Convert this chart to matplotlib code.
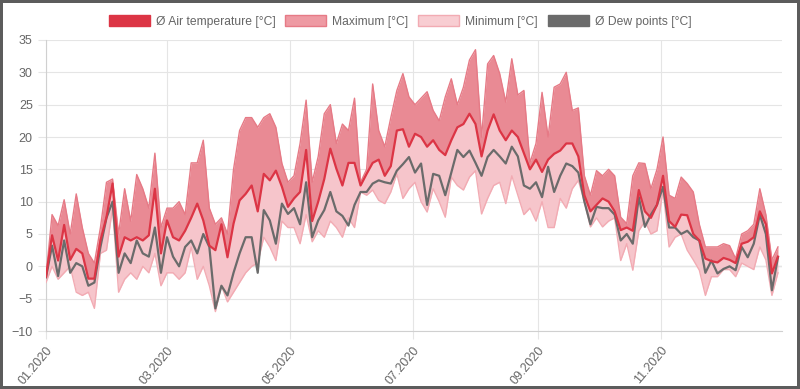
import matplotlib
matplotlib.use("Agg")
import matplotlib.pyplot as plt
import matplotlib.dates as mdates
from matplotlib.patches import Patch
import pandas as pd

# readings every third day of 2020
days = pd.date_range("2020-01-01", periods=122, freq="3D")

air_temp = [
    -1.6, 4.8, 0.9, 6.4, 1.0, 2.7, 2.0, -1.9, -1.9, 4.0,
    7.6, 12.8, 1.5, 4.5, 4.0, 4.5, 4.0, 4.8, 12.0, 2.0,
    7.1, 4.5, 4.0, 5.5, 7.5, 9.7, 7.1, 3.2, 2.5, 6.5,
    1.4, 6.6, 10.2, 11.2, 12.5, 8.5, 14.3, 13.3, 14.8, 12.3,
    9.2, 10.5, 11.5, 18.0, 7.0, 10.0, 13.5, 18.2, 15.1, 12.5,
    16.0, 16.0, 12.5, 14.3, 16.0, 16.5, 14.0, 15.5, 21.0, 21.2,
    18.5, 20.5, 20.0, 18.5, 19.5, 18.0, 17.2, 19.5, 21.5, 22.0,
    23.6, 22.0, 17.0, 21.0, 23.5, 21.0, 19.5, 21.0, 20.0, 17.5,
    15.0, 16.5, 14.6, 16.5, 17.4, 17.9, 19.0, 19.0, 17.0, 11.0,
    8.5, 9.5, 10.5, 10.0, 8.5, 5.6, 6.0, 5.5, 11.8, 8.5,
    7.5, 9.5, 14.0, 7.0, 6.1, 8.0, 7.9, 5.0, 4.0, 1.2,
    0.8, 0.6, 1.3, 1.0, 0.5, 3.5, 3.8, 4.5, 8.5, 6.5,
    -1.1, 1.5,
]

maximum = [
    -1.5, 8.0, 6.3, 10.3, 5.0, 11.2, 6.0, 2.0, 0.5, 6.0,
    13.0, 13.5, 5.0, 12.0, 7.0, 14.2, 12.0, 9.0, 17.5, 6.0,
    9.0, 9.0, 10.0, 8.0, 16.0, 16.0, 19.5, 9.0, 6.5, 7.5,
    5.0, 15.0, 21.0, 23.0, 23.0, 21.5, 23.0, 23.6, 21.5, 15.9,
    13.0, 14.0, 19.0, 25.7, 13.0, 17.0, 23.6, 25.0, 19.0, 22.0,
    21.0, 26.0, 13.0, 15.0, 28.2, 21.0, 18.5, 23.0, 27.2, 29.8,
    26.2, 25.0, 26.0, 27.0, 24.1, 22.5, 26.2, 29.0, 25.0, 27.7,
    31.9, 33.5, 20.0, 31.3, 32.6, 29.8, 25.4, 32.1, 26.5, 27.2,
    16.0, 19.0, 26.9, 20.0, 27.7, 28.2, 30.0, 24.1, 24.5, 14.0,
    11.0, 14.8, 14.0, 15.0, 14.0, 7.6, 6.6, 14.0, 16.0, 15.9,
    12.0, 15.0, 20.0, 11.0, 10.5, 13.8, 12.8, 11.5, 6.5, 3.0,
    3.0, 3.0, 3.5, 3.2, 1.2, 5.0, 5.5, 6.5, 12.0, 8.0,
    1.0, 3.0,
]

minimum = [
    -2.5, 0.0, -2.0, -1.0, 0.0, -4.0, -4.5, -4.0, -6.5, 2.0,
    2.5, 9.0, -4.0, -2.0, -1.0, -2.0, 0.0, -1.0, 2.0, -3.0,
    -1.0, -1.0, -2.0, -1.0, 3.0, -2.0, 0.0, -3.0, -7.0, -3.0,
    -5.5, -4.0, -2.5, -1.0, 0.0, 0.5, 4.5, 3.0, 0.9, 7.0,
    6.0, 6.0, 3.5, 8.0, 3.8, 5.5, 4.5, 7.0, 6.0, 4.5,
    7.5, 6.0, 11.5, 11.0, 11.8, 10.2, 9.7, 11.5, 14.3, 10.5,
    12.0, 13.0, 10.0, 8.4, 12.0, 10.0, 7.6, 13.8, 12.5, 11.8,
    13.8, 14.8, 8.1, 10.5, 12.5, 13.0, 9.7, 14.0, 11.0, 8.0,
    9.0, 7.0, 10.0, 6.0, 6.0, 10.5, 9.0, 12.0, 13.3, 10.0,
    6.1, 7.5, 6.1, 7.0, 7.5, 0.9, 3.5, -0.6, 5.5, 7.0,
    5.0, 5.5, 11.8, 3.0, 4.5, 5.0, 2.5, 1.0, -0.6, -4.5,
    -1.6, -1.6, -0.5, -0.5, -1.6, 0.5, 0.0, -0.5, 3.0, 1.0,
    -4.5, -1.0,
]

dew_point = [
    -1.7, 3.2, -1.5, 4.0, -1.0, 0.5, 0.0, -3.0, -2.5, 3.0,
    7.5, 10.0, -1.0, 2.0, 0.5, 4.0, 2.0, 1.5, 6.0, -1.0,
    4.5, 1.5, 0.0, 3.0, 4.0, 2.0, 5.0, 3.0, -6.5, -3.0,
    -4.5, -1.0, 2.0, 4.5, 4.5, -1.0, 8.7, 7.1, 3.5, 9.7,
    8.1, 9.0, 6.5, 13.0, 4.5, 7.1, 8.7, 11.5, 8.5, 7.8,
    6.3, 9.5, 11.5, 11.5, 12.8, 13.3, 13.0, 12.8, 14.8, 15.8,
    16.9, 14.5, 15.9, 9.5, 14.3, 14.0, 11.0, 14.5, 18.0, 16.9,
    17.9, 16.0, 14.0, 16.9, 18.0, 17.0, 15.9, 18.5, 17.0, 12.5,
    12.0, 13.0, 10.7, 15.4, 11.5, 14.0, 15.9, 15.5, 14.5, 10.0,
    6.5, 9.2, 9.0, 9.0, 8.0, 4.0, 5.0, 3.5, 10.7, 6.1,
    8.0, 9.5, 12.3, 6.0, 6.0, 5.0, 5.5, 4.5, 4.0, -1.0,
    0.9, -1.1, -0.4, 0.0, -0.6, 3.0, 1.4, 3.5, 8.0, 5.0,
    -3.7, 1.4,
]

labels = [
    "Ø Air temperature [°C]",
    "Maximum [°C]",
    "Minimum [°C]",
    "Ø Dew points [°C]",
]

red = "#dc3545"
max_fill = "#e98a94"
min_fill = "#f6c5cb"
dew = "#6b6b6b"
grid = "#e5e5e5"
text = "#666666"

plt.rcParams["font.family"] = ["Liberation Sans", "DejaVu Sans"]

fig = plt.figure(figsize=(8, 3.89), dpi=100, linewidth=4, edgecolor="#5c5c5c")
ax = fig.add_axes([46 / 800, 58 / 389, 736 / 800, 291 / 389])

# bands: min -> avg (light) and avg -> max (darker)
ax.fill_between(days, minimum, air_temp, color=min_fill, lw=0, zorder=2)
ax.fill_between(days, air_temp, maximum, color=max_fill, lw=0, zorder=2)
ax.plot(days, maximum, color="#e67a86", lw=1.0, zorder=3)
ax.plot(days, minimum, color="#f2abb3", lw=1.0, zorder=3)
ax.plot(days, dew_point, color=dew, lw=1.6, zorder=4)
ax.plot(days, air_temp, color=red, lw=1.6, zorder=5)

ax.set_xlim(pd.Timestamp("2020-01-01"), pd.Timestamp("2020-12-31"))
ax.set_ylim(-10, 35)
ax.set_yticks(range(-10, 36, 5))
ax.xaxis.set_major_locator(mdates.MonthLocator(bymonth=[1, 3, 5, 7, 9, 11]))
ax.xaxis.set_major_formatter(mdates.DateFormatter("%m.%Y"))

ax.grid(True, color=grid, lw=0.8, zorder=0)
ax.axhline(0, color="#c8c8c8", lw=0.9, zorder=1)
for side in ["top", "right"]:
    ax.spines[side].set_visible(False)
for side in ["left", "bottom"]:
    ax.spines[side].set_color("#d0d0d0")
ax.tick_params(axis="both", colors=grid, labelcolor=text, labelsize=9, length=6)
for lab in ax.get_xticklabels():
    lab.set_rotation(50)
    lab.set_ha("right")
    lab.set_rotation_mode("anchor")

handles = [
    Patch(facecolor=red, edgecolor=red),
    Patch(facecolor="#ee9aa3", edgecolor="#e67a86"),
    Patch(facecolor="#f8cdd2", edgecolor="#f2abb3"),
    Patch(facecolor=dew, edgecolor=dew),
]
leg = fig.legend(
    handles, labels, loc="upper center", bbox_to_anchor=(0.5, 0.99), ncol=4,
    frameon=False, fontsize=8.7, handlelength=3.4, handleheight=1.1,
    handletextpad=0.5, columnspacing=0.8,
)
for t in leg.get_texts():
    t.set_color(text)

fig.savefig("out.png", dpi=100)
